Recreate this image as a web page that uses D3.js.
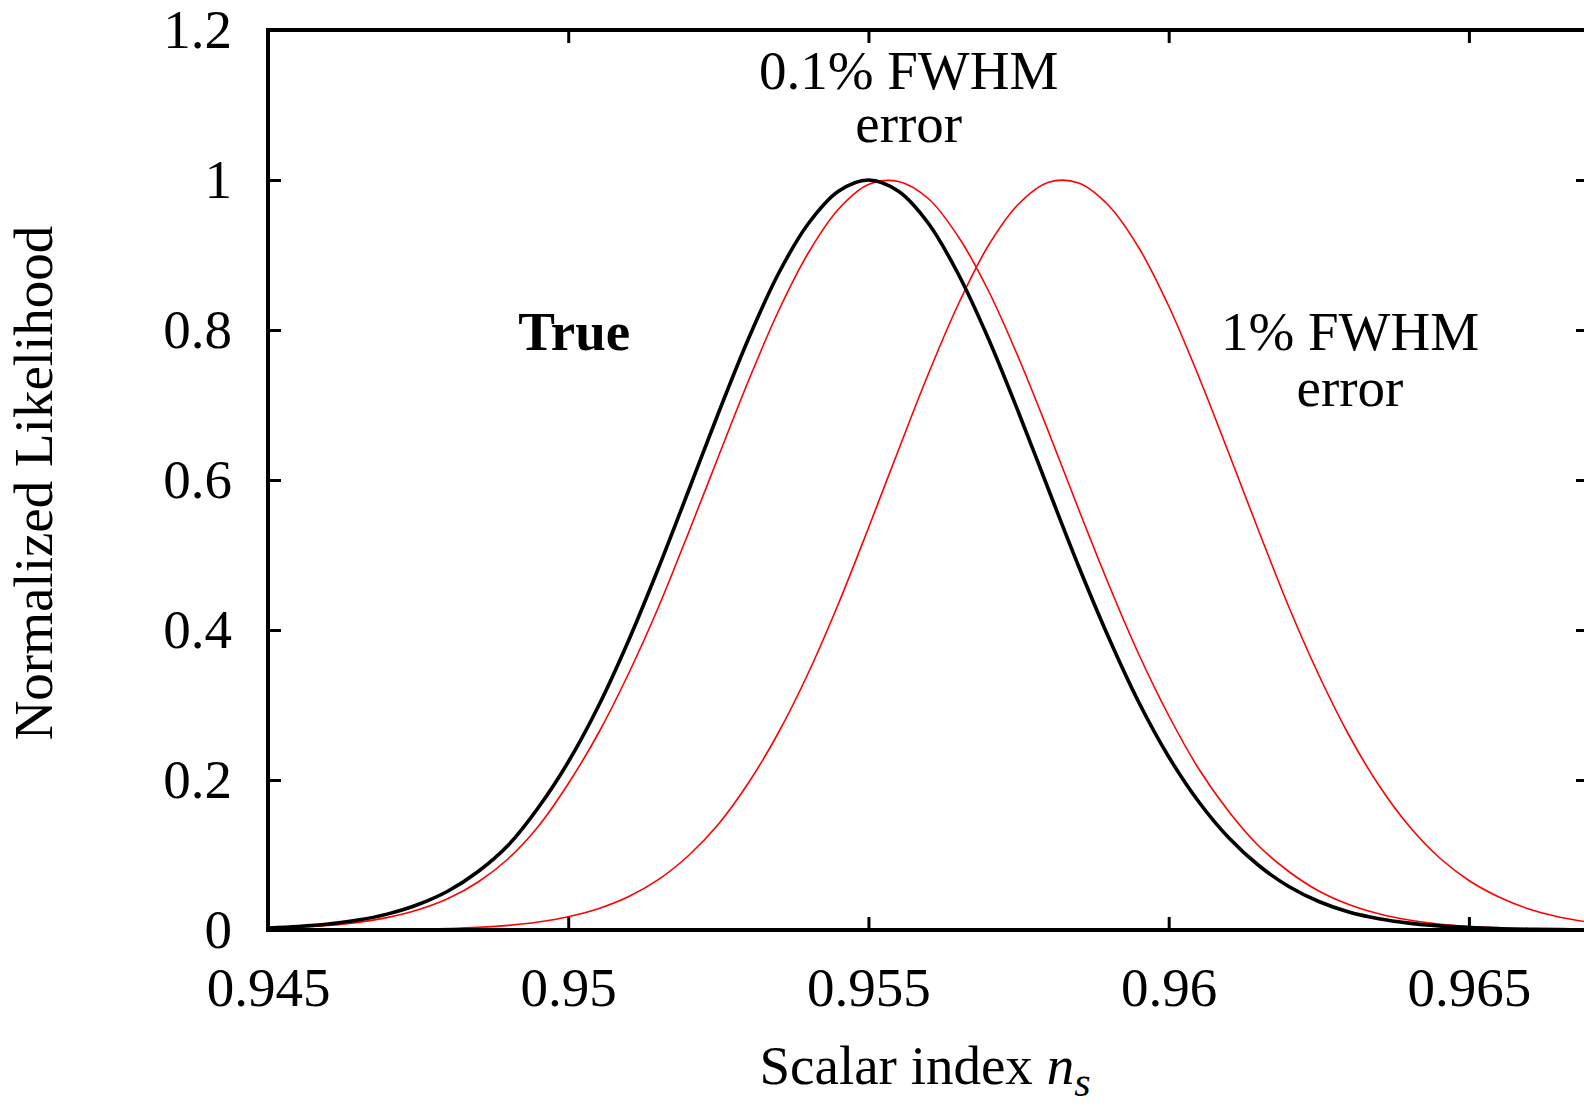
<!DOCTYPE html>
<html>
<head>
<meta charset="utf-8">
<script src="https://cdn.jsdelivr.net/npm/d3@7"></script>
<style>
  body { margin: 0; background: #fff; }
  text { font-family: "Liberation Serif", "DejaVu Serif", serif; fill: #000; }
</style>
</head>
<body>
<script>
// sample grid for n_s, 0.945 .. 0.967 in steps of 0.0005
const nsStart = 0.945;
const nsStep = 0.0005;

// values
const trueLike = [0.0026, 0.0046, 0.0079, 0.0132, 0.0215, 0.034, 0.052, 0.078, 0.113, 0.163,
  0.224, 0.298, 0.385, 0.482, 0.585, 0.689, 0.788, 0.875, 0.942, 0.985,
  1.0,
  0.985, 0.942, 0.874, 0.788, 0.690, 0.587, 0.485, 0.390, 0.304, 0.231,
  0.171, 0.123, 0.086, 0.058, 0.038, 0.024, 0.015, 0.0092, 0.0055, 0.0032,
  0.0018, 0.0010, 0.0005, 0.00027];

const err01Like = [0.0019, 0.0034, 0.0060, 0.0102, 0.0168, 0.027, 0.042, 0.064, 0.095, 0.138,
  0.195, 0.262, 0.341, 0.430, 0.529, 0.631, 0.732, 0.825, 0.903, 0.961,
  0.994, 0.998, 0.975, 0.924, 0.852, 0.763, 0.664, 0.561, 0.461, 0.368,
  0.286, 0.215, 0.158, 0.112, 0.078, 0.052, 0.034, 0.0216, 0.0133, 0.008,
  0.0046, 0.0026, 0.0014, 0.0008, 0.0004];

const err1Like = [0.00003, 0.00006, 0.00014, 0.00028, 0.00055, 0.00105, 0.002, 0.0036, 0.0062, 0.0107,
  0.0177, 0.0284, 0.0443, 0.0671, 0.099, 0.141, 0.196, 0.263, 0.343, 0.435,
  0.536, 0.640, 0.742, 0.835, 0.913, 0.968, 0.997, 0.996, 0.966, 0.910,
  0.832, 0.738, 0.636, 0.532, 0.431, 0.340, 0.260, 0.193, 0.139, 0.097,
  0.066, 0.044, 0.028, 0.0173, 0.0104];

const xTicks = [0.945, 0.95, 0.955, 0.96, 0.965];
const yTicks = [0, 0.2, 0.4, 0.6, 0.8, 1, 1.2];

const width = 1584;
const height = 1106;
const margin = {top: 30, left: 268, bottom: 176, right: -5};

const x = d3.scaleLinear()
    .domain([0.945, 0.967])
    .range([margin.left, width - margin.right]);
const y = d3.scaleLinear()
    .domain([0, 1.2])
    .range([height - margin.bottom, margin.top]);

const svg = d3.select('body')
    .append('svg')
    .attr('width', width)
    .attr('height', height);

svg.append('defs').append('clipPath')
    .attr('id', 'plot')
    .append('rect')
    .attr('x', x.range()[0])
    .attr('y', y.range()[1])
    .attr('width', x.range()[1] - x.range()[0])
    .attr('height', y.range()[0] - y.range()[1]);

function toPoints(vals) {
    return vals.map((v, i) => [nsStart + i * nsStep, v]);
}

const line = d3.line()
    .x(d => x(d[0]))
    .y(d => y(d[1]))
    .curve(d3.curveCatmullRom);

const curves = svg.append('g').attr('clip-path', 'url(#plot)');

// red ones first, black on top
curves.append('path')
    .attr('d', line(toPoints(err1Like)))
    .attr('fill', 'none')
    .attr('stroke', '#ff0000')
    .attr('stroke-width', 1.6);
curves.append('path')
    .attr('d', line(toPoints(err01Like)))
    .attr('fill', 'none')
    .attr('stroke', '#ff0000')
    .attr('stroke-width', 1.6);
curves.append('path')
    .attr('d', line(toPoints(trueLike)))
    .attr('fill', 'none')
    .attr('stroke', '#000')
    .attr('stroke-width', 3.6);

// axes: ticks point inward on all four sides
const tickLen = 13;
const fontSize = 55;

function styleAxis(g) {
    g.select('.domain').remove();
    g.selectAll('.tick line').attr('stroke', '#000').attr('stroke-width', 3);
    g.selectAll('.tick text').attr('font-size', fontSize).attr('font-family', '"Liberation Serif", serif');
}

svg.append('g')
    .attr('transform', `translate(0,${y(0)})`)
    .call(d3.axisBottom(x).tickValues(xTicks).tickFormat(d3.format('')).tickSizeInner(-tickLen).tickPadding(37))
    .call(styleAxis);

svg.append('g')
    .attr('transform', `translate(0,${y(1.2)})`)
    .call(d3.axisTop(x).tickValues(xTicks).tickFormat('').tickSizeInner(-tickLen))
    .call(styleAxis);

svg.append('g')
    .attr('transform', `translate(${x(0.945)},0)`)
    .call(d3.axisLeft(y).tickValues(yTicks).tickFormat(d3.format('')).tickSizeInner(-tickLen).tickPadding(36))
    .call(styleAxis);

svg.append('g')
    .attr('transform', `translate(${x(0.967)},0)`)
    .call(d3.axisRight(y).tickValues(yTicks).tickFormat('').tickSizeInner(-tickLen))
    .call(styleAxis);

// frame
svg.append('rect')
    .attr('x', x(0.945))
    .attr('y', y(1.2))
    .attr('width', x(0.967) - x(0.945))
    .attr('height', y(0) - y(1.2))
    .attr('fill', 'none')
    .attr('stroke', '#000')
    .attr('stroke-width', 4);

// axis titles
const xt = svg.append('text')
    .attr('x', 925)
    .attr('y', 1084)
    .attr('text-anchor', 'middle')
    .attr('font-size', fontSize);
xt.append('tspan').text('Scalar index ');
xt.append('tspan').attr('font-style', 'italic').text('n');
xt.append('tspan').attr('font-style', 'italic').attr('font-size', 42).attr('dy', 12).text('s');

svg.append('text')
    .attr('transform', 'translate(52,483) rotate(-90)')
    .attr('text-anchor', 'middle')
    .attr('font-size', fontSize)
    .text('Normalized Likelihood');

// labels on the curves
const notes = [
    {t: '0.1% FWHM', v: 0.95567, l: 1.121, bold: false},
    {t: 'error', v: 0.95567, l: 1.051, bold: false},
    {t: 'True', v: 0.9501, l: 0.773, bold: true},
    {t: '1% FWHM', v: 0.96302, l: 0.773, bold: false},
    {t: 'error', v: 0.96302, l: 0.699, bold: false}
];
svg.selectAll('text.note')
    .data(notes)
    .enter()
    .append('text')
    .attr('class', 'note')
    .attr('x', d => x(d.v))
    .attr('y', d => y(d.l))
    .attr('text-anchor', 'middle')
    .attr('font-size', fontSize)
    .attr('font-weight', d => d.bold ? 'bold' : 'normal')
    .text(d => d.t);
</script>
</body>
</html>
